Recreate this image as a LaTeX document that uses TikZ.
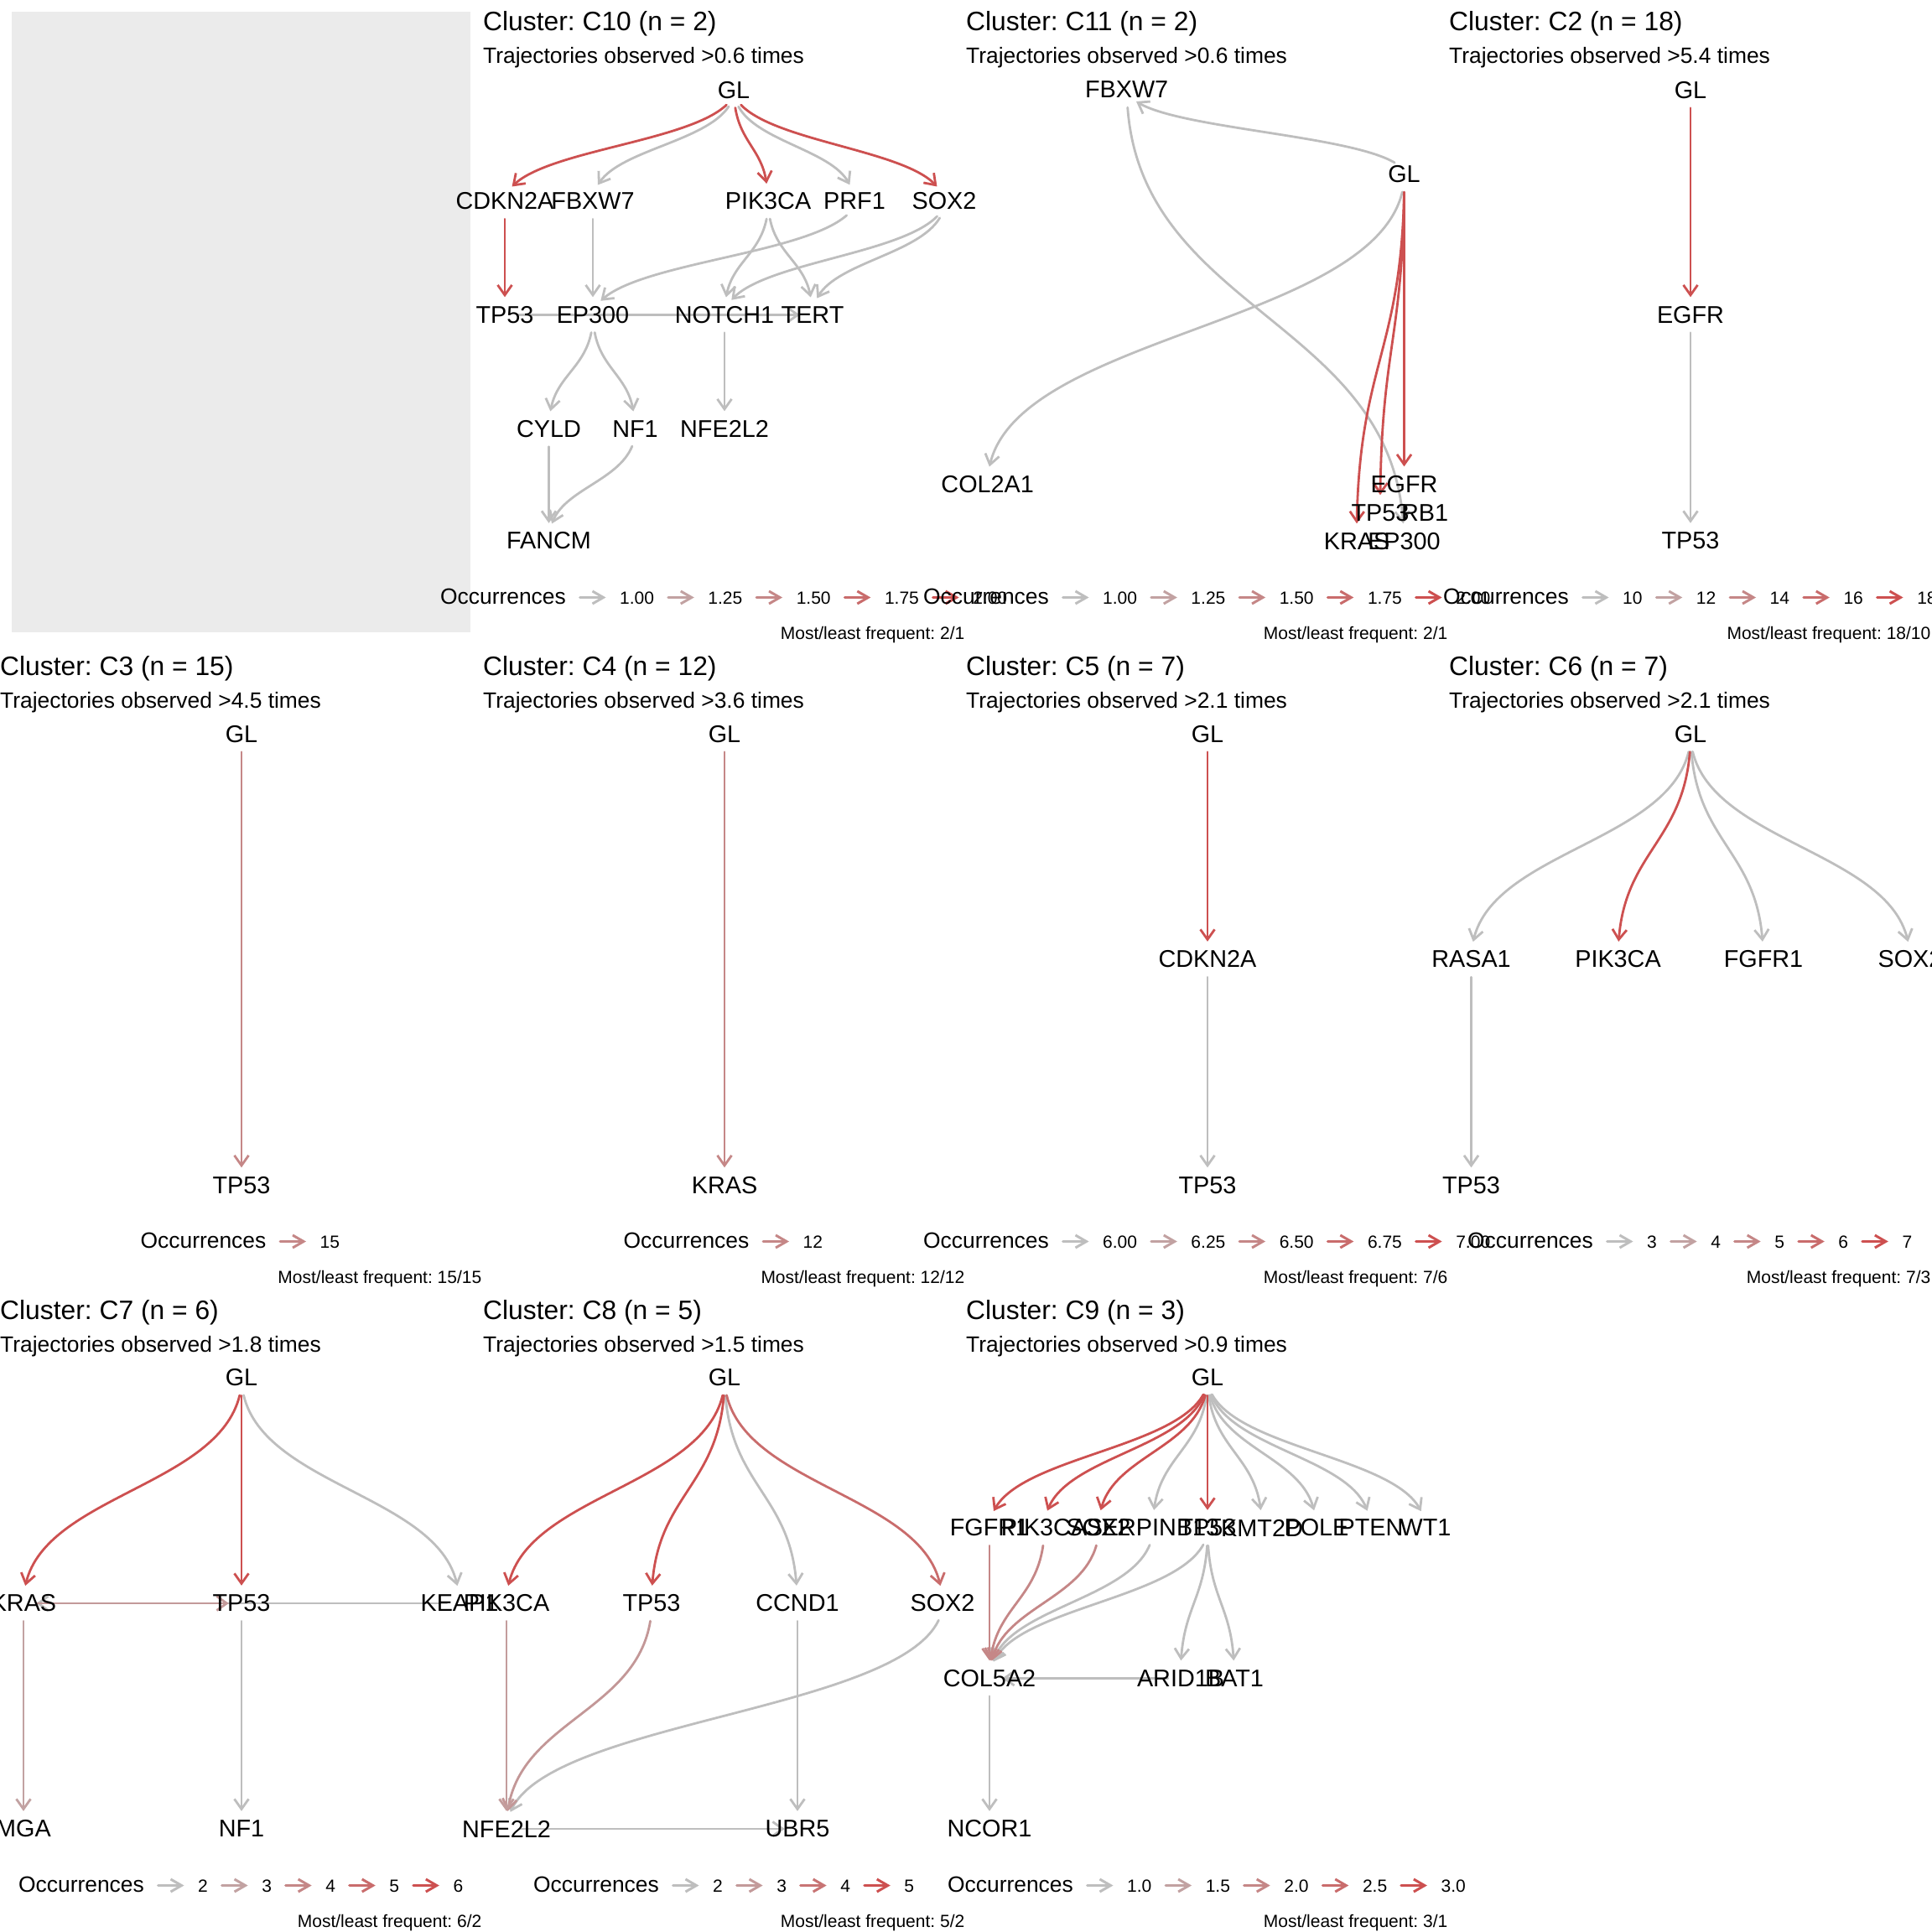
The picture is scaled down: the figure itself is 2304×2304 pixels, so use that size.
\documentclass[tikz,border=0pt]{standalone}
\usepackage{fontspec}
\setmainfont{Liberation Sans}
\frenchspacing
\usetikzlibrary{arrows.meta,calc,shapes.geometric}
\pgfdeclarelayer{bglayer}
\pgfdeclarelayer{edgelayer}
\pgfsetlayers{bglayer,edgelayer,main}
\definecolor{egray}{RGB}{190,190,190}
\definecolor{ered}{RGB}{205,80,80}
\definecolor{panelgray}{RGB}{235,235,235}
\tikzset{
  gnode/.style={ellipse, minimum width=30pt, minimum height=42pt, inner sep=0pt, font=\fontsize{28.8}{32}\selectfont},
  ttlt/.style={anchor=base west, inner sep=0pt, font=\fontsize{31.8}{36}\selectfont},
  subt/.style={anchor=base west, inner sep=0pt, font=\fontsize{26.4}{30}\selectfont},
  legt/.style={anchor=base east, inner sep=0pt, font=\fontsize{26.4}{30}\selectfont},
  legn/.style={anchor=base west, inner sep=0pt, font=\fontsize{21}{24}\selectfont},
  mft/.style={anchor=base east, inner sep=0pt, font=\fontsize{21}{24}\selectfont},
  conn/.style={line width=2.8pt, draw=egray, line cap=round, line join=round, -{Straight Barb[length=12pt,width=17pt]}},
  legar/.style={line width=3pt, line cap=round, line join=round, -{Straight Barb[length=13pt,width=15pt]}},
}
\newcommand\zl[1]{\makebox[0pt]{#1}}
\newdimen\dgXa \newdimen\dgYa \newdimen\dgXb \newdimen\dgYb
% diagonal (ggraph-like) edge: cubic from centre to centre, trimmed near both ends
\newcommand\dg[3][]{%
  \pgfextractx{\dgXa}{\pgfpointanchor{#2}{center}}%
  \pgfextracty{\dgYa}{\pgfpointanchor{#2}{center}}%
  \pgfextractx{\dgXb}{\pgfpointanchor{#3}{center}}%
  \pgfextracty{\dgYb}{\pgfpointanchor{#3}{center}}%
  \pgfmathsetmacro\dgdx{\dgXb-\dgXa}%
  \pgfmathsetmacro\dgdy{\dgYb-\dgYa}%
  \pgfmathsetmacro\dgt{min(0.12,0.12*132/max(abs(\dgdy),1))}%
  \pgfmathsetmacro\dgfx{3*(1-\dgt)*\dgt*\dgt+\dgt*\dgt*\dgt}%
  \pgfmathsetmacro\dgfy{1.5*(1-\dgt)*\dgt+\dgt*\dgt*\dgt}%
  \pgfmathsetmacro\dggx{2*(1-2*\dgt)*(1-\dgt)*\dgt}%
  \pgfmathsetmacro\dggy{0.5*(1-2*\dgt)*((1-\dgt)*(1-\dgt)+\dgt*\dgt)}%
  \pgfmathsetmacro\dgsx{\dgdx*\dgfx}%
  \pgfmathsetmacro\dgsy{\dgdy*\dgfy}%
  \pgfmathsetmacro\dgqx{\dgsx+\dgdx*\dggx}%
  \pgfmathsetmacro\dgqy{\dgsy+\dgdy*\dggy}%
  \pgfmathsetmacro\dgrx{-\dgqx}%
  \pgfmathsetmacro\dgry{-\dgqy}%
  \pgfmathtruncatemacro\dgang{atan2(\dgsy,\dgsx)}%
  \pgfmathtruncatemacro\dgangb{\dgang+180}%
  \draw[conn,#1] (#2.\dgang) .. controls ([shift={(\dgqx pt,\dgqy pt)}]#2.center) and ([shift={(\dgrx pt,\dgry pt)}]#3.center) .. (#3.\dgangb);
}
\newcommand\occleg[4]{%
  \node[legt] (#1o) at (#2,#3) {Occurrences};
  \xdef\prevn{#1o}%
  \foreach \lv/\lc [count=\li] in {#4}{%
    \draw[legar,draw=\lc] ([xshift=16.5pt,yshift=7.5pt]\prevn.base east) -- ++(31pt,0pt);
    \node[legn] (#1n\li) at ([xshift=64pt]\prevn.base east) {\lv};
    \xdef\prevn{#1n\li}%
  }%
}
\begin{document}
\begin{tikzpicture}[x=1pt,y=-1pt]
\useasboundingbox (0,0) rectangle (2304,2304);
\begin{pgfonlayer}{bglayer}
\fill[white] (0,0) rectangle (2304,2304);
\fill[panelgray] (14,14) rectangle (561,754);
\end{pgfonlayer}

% ---------------- C10 ----------------
\node[ttlt] (c10t) at (576,37) {Cluster: C10 (n = 2)};
\node[subt] (c10s) at (576,76) {Trajectories observed >0.6 times};
\node[gnode] (c10gl) at (875,107.5) {\zl{GL}};
\node[gnode] (c10cdkn) at (602,240) {\zl{CDKN2A}};
\node[gnode] (c10fbx) at (707,240) {\zl{FBXW7}};
\node[gnode] (c10pik) at (916,240) {\zl{PIK3CA}};
\node[gnode] (c10prf) at (1019,240) {\zl{PRF1}};
\node[gnode] (c10sox) at (1126,240) {\zl{SOX2}};
\node[gnode] (c10tp) at (602,375.5) {\zl{TP53}};
\node[gnode] (c10ep) at (707,375.5) {\zl{EP300}};
\node[gnode] (c10not) at (864,375.5) {\zl{NOTCH1}};
\node[gnode] (c10tert) at (969,375.5) {\zl{TERT}};
\node[gnode] (c10cyld) at (654.5,511.5) {\zl{CYLD}};
\node[gnode] (c10nf) at (757.5,511.5) {\zl{NF1}};
\node[gnode] (c10nfe) at (864,511.5) {\zl{NFE2L2}};
\node[gnode] (c10fan) at (654.5,645) {\zl{FANCM}};
\occleg{c10}{675}{720}{1.00/egray,1.25/ered!25!egray,1.50/ered!50!egray,1.75/ered!75!egray,2.00/ered}
\node[mft] (c10mf) at (1150.5,762.5) {Most/least frequent: 2/1};

% ---------------- C11 ----------------
\node[ttlt] (c11t) at (1152,37) {Cluster: C11 (n = 2)};
\node[subt] (c11s) at (1152,76) {Trajectories observed >0.6 times};
\node[gnode] (c11fbx) at (1343.6,107) {\zl{FBXW7}};
\node[gnode] (c11gl) at (1674.5,208) {\zl{GL}};
\node[gnode] (c11col) at (1177.7,577.5) {\zl{COL2A1}};
\node[gnode] (c11egfr) at (1674.5,577.5) {\zl{EGFR}};
\node[gnode] (c11tp) at (1646,611.5) {\zl{TP53}};
\node[gnode] (c11rb) at (1699,611.5) {\zl{RB1}};
\node[gnode] (c11kras) at (1618,645.5) {\zl{KRAS}};
\node[gnode] (c11ep) at (1674.5,645.5) {\zl{EP300}};
\occleg{c11}{1251}{720}{1.00/egray,1.25/ered!25!egray,1.50/ered!50!egray,1.75/ered!75!egray,2.00/ered}
\node[mft] (c11mf) at (1726.5,762.5) {Most/least frequent: 2/1};

% ---------------- C2 ----------------
\node[ttlt] (c2t) at (1728,37) {Cluster: C2 (n = 18)};
\node[subt] (c2s) at (1728,76) {Trajectories observed >5.4 times};
\node[gnode] (c2gl) at (2016,107.5) {\zl{GL}};
\node[gnode] (c2egfr) at (2016,375.5) {\zl{EGFR}};
\node[gnode] (c2tp) at (2016,645) {\zl{TP53}};
\occleg{c2}{1871}{720}{10/egray,12/ered!25!egray,14/ered!50!egray,16/ered!75!egray,18/ered}
\node[mft] (c2mf) at (2302.5,762.5) {Most/least frequent: 18/10};

% ---------------- C3 ----------------
\node[ttlt] (c3t) at (0,805) {Cluster: C3 (n = 15)};
\node[subt] (c3s) at (0,844) {Trajectories observed >4.5 times};
\node[gnode] (c3gl) at (288,875.5) {\zl{GL}};
\node[gnode] (c3tp) at (288,1413.5) {\zl{TP53}};
\occleg{c3}{317.5}{1488}{15/ered!50!egray}
\node[mft] (c3mf) at (574.5,1530.5) {Most/least frequent: 15/15};

% ---------------- C4 ----------------
\node[ttlt] (c4t) at (576,805) {Cluster: C4 (n = 12)};
\node[subt] (c4s) at (576,844) {Trajectories observed >3.6 times};
\node[gnode] (c4gl) at (864,875.5) {\zl{GL}};
\node[gnode] (c4kras) at (864,1413.5) {\zl{KRAS}};
\occleg{c4}{893.5}{1488}{12/ered!50!egray}
\node[mft] (c4mf) at (1150.5,1530.5) {Most/least frequent: 12/12};

% ---------------- C5 ----------------
\node[ttlt] (c5t) at (1152,805) {Cluster: C5 (n = 7)};
\node[subt] (c5s) at (1152,844) {Trajectories observed >2.1 times};
\node[gnode] (c5gl) at (1440,875.5) {\zl{GL}};
\node[gnode] (c5cdkn) at (1440,1144) {\zl{CDKN2A}};
\node[gnode] (c5tp) at (1440,1413.5) {\zl{TP53}};
\occleg{c5}{1251}{1488}{6.00/egray,6.25/ered!25!egray,6.50/ered!50!egray,6.75/ered!75!egray,7.00/ered}
\node[mft] (c5mf) at (1726.5,1530.5) {Most/least frequent: 7/6};

% ---------------- C6 ----------------
\node[ttlt] (c6t) at (1728,805) {Cluster: C6 (n = 7)};
\node[subt] (c6s) at (1728,844) {Trajectories observed >2.1 times};
\node[gnode] (c6gl) at (2016,875.5) {\zl{GL}};
\node[gnode] (c6rasa) at (1754.5,1144) {\zl{RASA1}};
\node[gnode] (c6pik) at (1929.5,1144) {\zl{PIK3CA}};
\node[gnode] (c6fgfr) at (2103,1144) {\zl{FGFR1}};
\node[gnode] (c6sox) at (2278,1144) {\zl{SOX2}};
\node[gnode] (c6tp) at (1754.5,1413.5) {\zl{TP53}};
\occleg{c6}{1900}{1488}{3/egray,4/ered!25!egray,5/ered!50!egray,6/ered!75!egray,7/ered}
\node[mft] (c6mf) at (2302.5,1530.5) {Most/least frequent: 7/3};

% ---------------- C7 ----------------
\node[ttlt] (c7t) at (0,1573) {Cluster: C7 (n = 6)};
\node[subt] (c7s) at (0,1612) {Trajectories observed >1.8 times};
\node[gnode] (c7gl) at (288,1643) {\zl{GL}};
\node[gnode] (c7kras) at (28,1912) {\zl{KRAS}};
\node[gnode] (c7tp) at (288,1912) {\zl{TP53}};
\node[gnode] (c7keap) at (548,1912) {\zl{KEAP1}};
\node[gnode] (c7mga) at (28,2181) {\zl{MGA}};
\node[gnode] (c7nf) at (288,2181) {\zl{NF1}};
\occleg{c7}{172}{2256}{2/egray,3/ered!25!egray,4/ered!50!egray,5/ered!75!egray,6/ered}
\node[mft] (c7mf) at (574.5,2298.5) {Most/least frequent: 6/2};

% ---------------- C8 ----------------
\node[ttlt] (c8t) at (576,1573) {Cluster: C8 (n = 5)};
\node[subt] (c8s) at (576,1612) {Trajectories observed >1.5 times};
\node[gnode] (c8gl) at (864,1643) {\zl{GL}};
\node[gnode] (c8pik) at (604,1912) {\zl{PIK3CA}};
\node[gnode] (c8tp) at (777,1912) {\zl{TP53}};
\node[gnode] (c8ccnd) at (951,1912) {\zl{CCND1}};
\node[gnode] (c8sox) at (1124,1912) {\zl{SOX2}};
\node[gnode] (c8nfe) at (604,2181) {\zl{NFE2L2}};
\node[gnode] (c8ubr) at (951,2181) {\zl{UBR5}};
\occleg{c8}{786}{2256}{2/egray,3/ered!33!egray,4/ered!67!egray,5/ered}
\node[mft] (c8mf) at (1150.5,2298.5) {Most/least frequent: 5/2};

% ---------------- C9 ----------------
\node[ttlt] (c9t) at (1152,1573) {Cluster: C9 (n = 3)};
\node[subt] (c9s) at (1152,1612) {Trajectories observed >0.9 times};
\node[gnode] (c9gl) at (1440,1643) {\zl{GL}};
\node[gnode] (c9fgfr) at (1180,1822) {\zl{FGFR1}};
\node[gnode] (c9pik) at (1245,1822) {\zl{PIK3CA}};
\node[gnode] (c9sox) at (1310,1822) {\zl{SOX2}};
\node[gnode] (c9serp) at (1375,1822) {\zl{SERPINB13}};
\node[gnode] (c9tp) at (1440,1822) {\zl{TP53}};
\node[gnode] (c9kmt) at (1505,1822) {\zl{KMT2D}};
\node[gnode] (c9pole) at (1570,1822) {\zl{POLE}};
\node[gnode] (c9pten) at (1635,1822) {\zl{PTEN}};
\node[gnode] (c9wt) at (1700,1822) {\zl{WT1}};
\node[gnode] (c9col) at (1180,2001.5) {\zl{COL5A2}};
\node[gnode] (c9arid) at (1408,2001.5) {\zl{ARID1B}};
\node[gnode] (c9bat) at (1472,2001.5) {\zl{BAT1}};
\node[gnode] (c9ncor) at (1180,2181) {\zl{NCOR1}};
\occleg{c9}{1280}{2256}{1.0/egray,1.5/ered!25!egray,2.0/ered!50!egray,2.5/ered!75!egray,3.0/ered}
\node[mft] (c9mf) at (1726.5,2298.5) {Most/least frequent: 3/1};

% ================= edges =================
\begin{pgfonlayer}{edgelayer}
% C10
\draw[conn] (c10tp) -- (c10tert);
\dg{c10gl}{c10fbx}
\dg{c10gl}{c10prf}
\dg{c10fbx}{c10ep}
\dg{c10prf}{c10ep}
\dg{c10pik}{c10not}
\dg{c10pik}{c10tert}
\dg{c10sox}{c10not}
\dg{c10sox}{c10tert}
\dg{c10ep}{c10cyld}
\dg{c10ep}{c10nf}
\dg{c10not}{c10nfe}
\dg{c10cyld}{c10fan}
\dg{c10nf}{c10fan}
\dg[draw=ered]{c10gl}{c10cdkn}
\dg[draw=ered]{c10gl}{c10pik}
\dg[draw=ered]{c10gl}{c10sox}
\dg[draw=ered]{c10cdkn}{c10tp}
% C11
\dg{c11gl}{c11fbx}
\dg{c11fbx}{c11ep}
\dg{c11gl}{c11col}
\dg[draw=ered]{c11gl}{c11egfr}
\dg[draw=ered]{c11gl}{c11tp}
\dg[draw=ered]{c11gl}{c11kras}
% C2
\dg[draw=ered]{c2gl}{c2egfr}
\dg{c2egfr}{c2tp}
% C3, C4
\dg[draw=ered!50!egray]{c3gl}{c3tp}
\dg[draw=ered!50!egray]{c4gl}{c4kras}
% C5
\dg[draw=ered]{c5gl}{c5cdkn}
\dg{c5cdkn}{c5tp}
% C6
\dg{c6gl}{c6rasa}
\dg{c6gl}{c6fgfr}
\dg{c6gl}{c6sox}
\dg[draw=ered]{c6gl}{c6pik}
\dg{c6rasa}{c6tp}
% C7
\draw[conn] (c7keap) -- (c7kras);
\draw[conn,draw=ered!33!egray] (c7kras) -- (c7tp);
\dg{c7gl}{c7keap}
\dg[draw=ered]{c7gl}{c7kras}
\dg[draw=ered]{c7gl}{c7tp}
\dg[draw=ered!25!egray]{c7kras}{c7mga}
\dg{c7tp}{c7nf}
% C8
\draw[conn] (c8nfe) -- (c8ubr);
\dg{c8gl}{c8ccnd}
\dg[draw=ered]{c8gl}{c8pik}
\dg[draw=ered]{c8gl}{c8tp}
\dg[draw=ered!75!egray]{c8gl}{c8sox}
\dg{c8sox}{c8nfe}
\dg{c8ccnd}{c8ubr}
\dg[draw=ered!35!egray]{c8tp}{c8nfe}
\dg[draw=ered!30!egray]{c8pik}{c8nfe}
% C9
\draw[conn] (c9arid) -- (c9col);
\dg{c9gl}{c9serp}
\dg{c9gl}{c9kmt}
\dg{c9gl}{c9pole}
\dg{c9gl}{c9pten}
\dg{c9gl}{c9wt}
\dg[draw=ered]{c9gl}{c9fgfr}
\dg[draw=ered]{c9gl}{c9pik}
\dg[draw=ered]{c9gl}{c9sox}
\dg[draw=ered]{c9gl}{c9tp}
\dg{c9serp}{c9col}
\dg{c9tp}{c9col}
\dg{c9tp}{c9arid}
\dg{c9tp}{c9bat}
\dg[draw=ered!50!egray]{c9fgfr}{c9col}
\dg[draw=ered!50!egray]{c9pik}{c9col}
\dg[draw=ered!50!egray]{c9sox}{c9col}
\dg{c9col}{c9ncor}
\end{pgfonlayer}
\end{tikzpicture}
\end{document}
